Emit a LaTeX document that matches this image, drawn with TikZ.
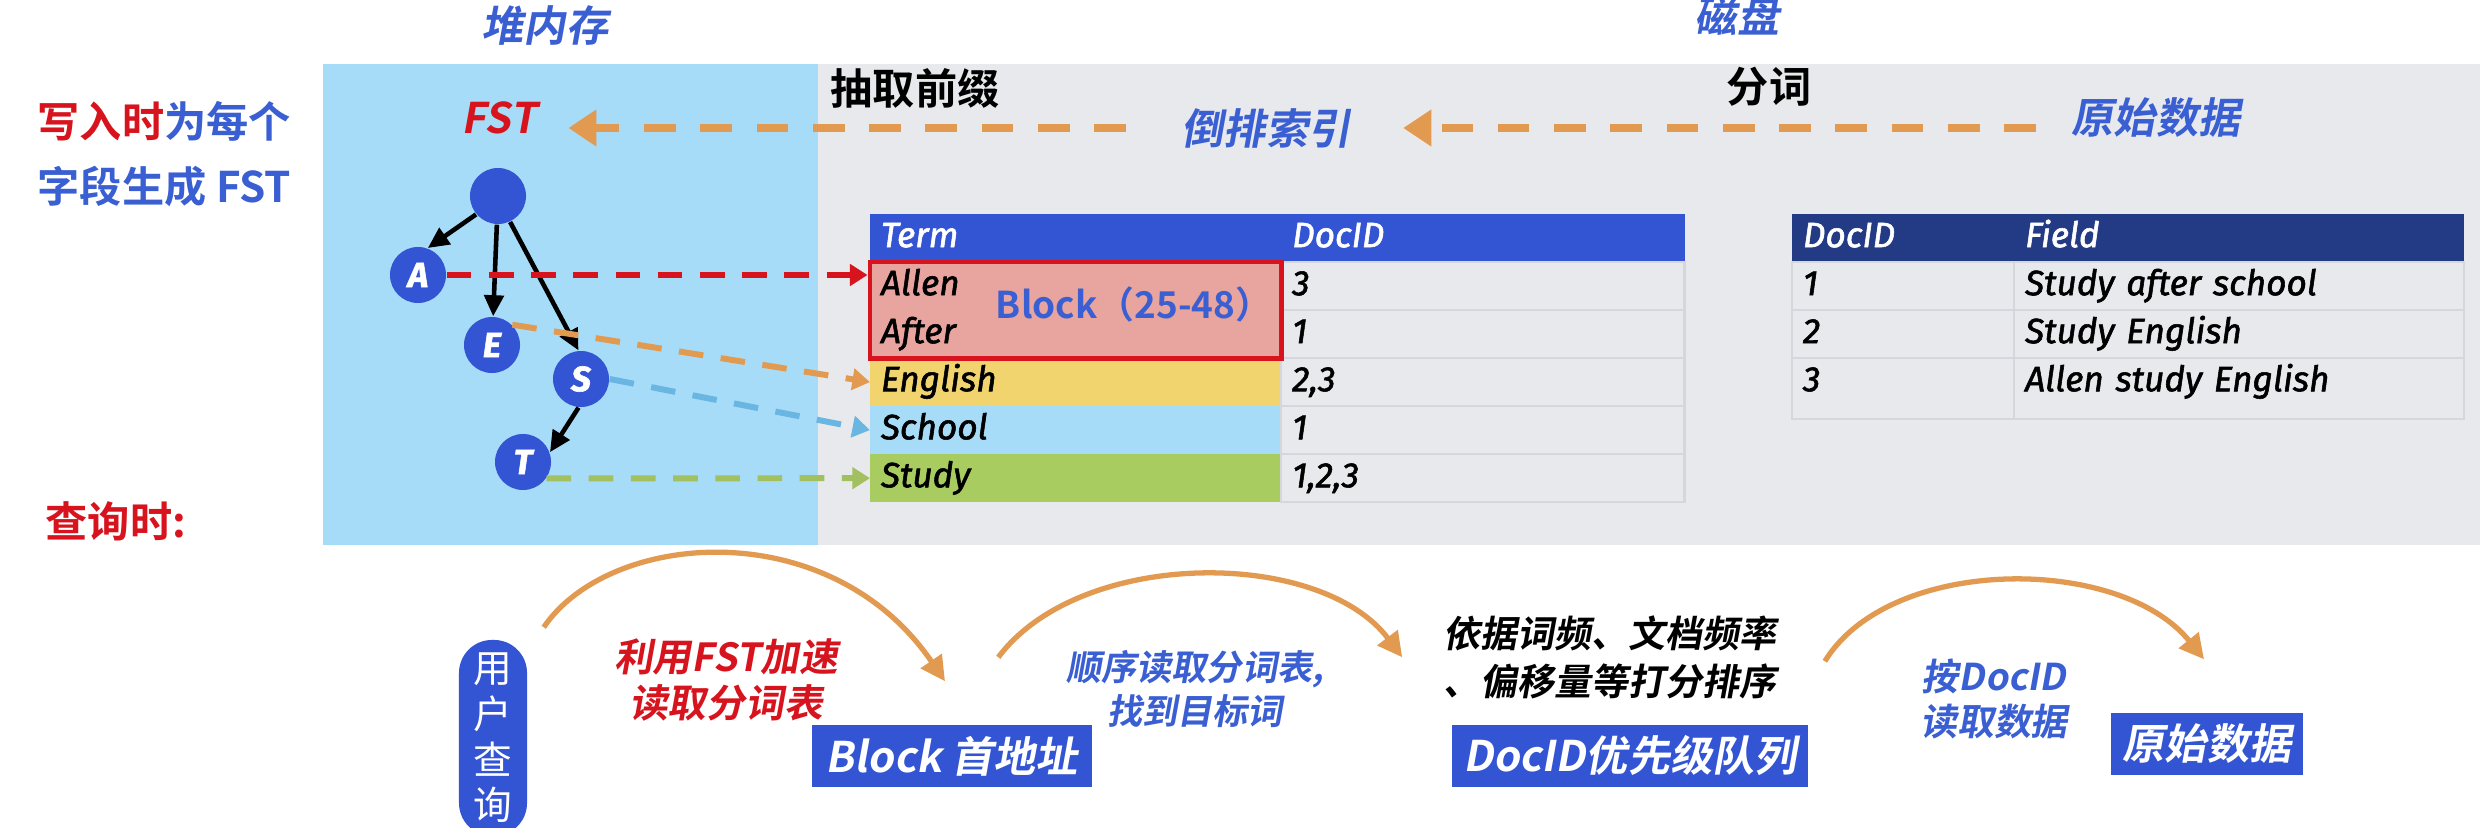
\documentclass[tikz,border=0pt]{standalone}
\usepackage{fontspec}
\usetikzlibrary{arrows.meta,positioning,calc,fit}
\newfontfamily\cjk[BoldFont={Noto Sans CJK SC Bold}]{Noto Sans CJK SC}
\newfontfamily\cjki[FakeSlant=0.18,BoldFont={Noto Sans CJK SC Bold}]{Noto Sans CJK SC}
\newfontfamily\lat[FakeBold=1.6]{Fira Sans}
\definecolor{heap}{RGB}{166,220,248}
\definecolor{disk}{RGB}{232,233,237}
\definecolor{boxblue}{RGB}{51,85,212}
\definecolor{txtblue}{RGB}{58,95,210}
\definecolor{navy}{RGB}{35,58,133}
\definecolor{hot}{RGB}{215,20,30}
\definecolor{amber}{RGB}{226,154,80}
\definecolor{salmon}{RGB}{232,164,158}
\definecolor{engyellow}{RGB}{242,212,110}
\definecolor{schoolblue}{RGB}{166,220,248}
\definecolor{studygreen}{RGB}{168,204,96}
\definecolor{gridline}{RGB}{214,215,221}
\definecolor{sky}{RGB}{105,182,226}
\definecolor{olive}{RGB}{163,192,96}

\begin{document}
\begin{tikzpicture}[x=0.01cm, y=-0.01cm,
  lbl/.style={inner sep=2pt, font=\cjki\bfseries\fontsize{12}{14}\selectfont},
  uplbl/.style={inner sep=2pt, font=\cjk\bfseries\fontsize{12}{14}\selectfont},
  cell/.style={anchor=north west, text width=#1, minimum height=0.48cm, text height=7.2pt, text depth=2pt, inner xsep=0.11cm, inner ysep=0pt, outer sep=0pt, align=left, font=\lat\itshape\fontsize{10}{12}\selectfont},
  cellline/.style={draw=gridline, line width=0.6pt},
  fstnode/.style={circle, fill=boxblue, minimum size=0.56cm, inner sep=0pt, text=white, font=\lat\itshape\bfseries\fontsize{10}{12}\selectfont},
  tree/.style={-{Triangle[length=6pt,width=5.5pt]}, line width=1.3pt},
  link/.style={line width=1.7pt, dash pattern=on 7pt off 5pt, -{Triangle[length=5pt,width=6pt]}},
  toparrow/.style={amber, line width=2.3pt, dash pattern=on 9pt off 7pt, -{Triangle[length=8pt,width=10pt]}},
  qbox/.style={fill=boxblue, text=white, inner sep=0pt, font=\cjki\bfseries\fontsize{12}{14}\selectfont},
  qlbl/.style 2 args={inner sep=1pt, align=center, font=\cjki\bfseries\fontsize{#1}{#2}\selectfont},
  hop/.style={amber, line width=1.5pt, -{Triangle[length=7pt,width=7pt]}},
]
  % canvas and the two storage areas
  \fill[white] (0,0) rectangle (2492,828);
  \useasboundingbox (0,0) rectangle (2492,828);
  \fill[heap] (323,64) rectangle (818,545);
  \fill[disk] (818,64) rectangle (2480,545);

  % titles
  \node[lbl, text=txtblue] (heaplbl) at (545,26) {堆内存};
  \node[lbl, text=txtblue] (disklbl) at (1737,16) {磁盘};
  \node[anchor=west, align=left, inner sep=2pt, text=txtblue, font=\cjk\bfseries\fontsize{12}{18.5}\selectfont] (writelbl) at (30,154) {\textcolor{hot}{写入时}为每个\\字段生成 FST};
  \node[uplbl, text=hot, anchor=west] (querylbl) at (38,521) {查询时:};

  \node[lbl, text=hot] (fst) at (499,118) {FST};
  \node[uplbl] (prefix) at (915,88) {抽取前缀};
  \node[lbl, text=txtblue] (invidx) at (1266,128) {倒排索引};
  \node[uplbl] (seg) at (1769,87) {分词};
  \node[lbl, text=txtblue] (rawtop) at (2156,118) {原始数据};
  \draw[toparrow, shorten <=0.28cm, shorten >=0.45cm] (rawtop.west |- invidx.east) -- (invidx.east);
  \draw[toparrow, shorten <=0.48cm, shorten >=0.24cm] (invidx.west) -- (invidx.west -| fst.east);

  % term dictionary
  \node[cell=3.89cm, fill=boxblue, text=white] (hterm) at (870,214) {Term};
  \node[cell=3.81cm, fill=boxblue, text=white, right=0pt of hterm] (hdoc) {DocID};
  \node[cell=3.89cm, fill=salmon, below=0pt of hterm] (allen) {Allen};
  \node[cell=3.89cm, fill=salmon, below=0pt of allen] (after) {After};
  \node[cell=3.89cm, fill=engyellow, below=0pt of after] (english) {English};
  \node[cell=3.89cm, fill=schoolblue, below=0pt of english] (school) {School};
  \node[cell=3.89cm, fill=studygreen, below=0pt of school] (study) {Study};
  \node[cell=3.81cm, cellline, right=0pt of allen] (dallen) {3};
  \node[cell=3.81cm, cellline, right=0pt of after] (dafter) {1};
  \node[cell=3.81cm, cellline, right=0pt of english] (denglish) {2,3};
  \node[cell=3.81cm, cellline, right=0pt of school] (dschool) {1};
  \node[cell=3.81cm, cellline, right=0pt of study] (dstudy) {1,2,3};
  \node[draw=hot, line width=1.4pt, inner sep=0pt, fit=(allen)(after)] (block) {};
  \node[font=\cjk\bfseries\fontsize{10.5}{12}\selectfont, text=txtblue] (blocklbl) at (1134,304) {Block（25-48）};

  % raw documents
  \node[cell=2cm, fill=navy, text=white] (h2doc) at (1792,214) {DocID};
  \node[cell=4.28cm, fill=navy, text=white, right=0pt of h2doc] (h2field) {Field};
  \node[cell=2cm, cellline, below=0pt of h2doc] (r1id) {1};
  \node[cell=2cm, cellline, below=0pt of r1id] (r2id) {2};
  \node[cell=2cm, cellline, below=0pt of r2id, minimum height=0.61cm, text depth=0.2cm] (r3id) {3};
  \node[cell=4.28cm, cellline, right=0pt of r1id] (r1f) {Study after school};
  \node[cell=4.28cm, cellline, right=0pt of r2id] (r2f) {Study English};
  \node[cell=4.28cm, cellline, right=0pt of r3id, minimum height=0.61cm, text depth=0.2cm] (r3f) {Allen study English};

  % FST
  \node[fstnode] (root) at (498,196) {};
  \node[fstnode] (na) at (418,275) {A};
  \node[fstnode] (ne) at (492,345) {E};
  \node[fstnode] (ns) at (581,379) {S};
  \node[fstnode] (nt) at (523,462) {T};
  \draw[tree] (root.220) -- (na.70);
  \draw[tree] (root) -- (ne);
  \draw[tree] (root.295) -- (ns.95);
  \draw[tree] (ns.265) -- (nt.20);
  \draw[link, hot] (na.east) -- (na.east -| block.west);
  \draw[link, amber] (ne.north east) -- (english.west);
  \draw[link, sky] (ns.east) -- (school.west);
  \draw[link, olive] (nt.-35) -- (study.west);

  % query path
  \node[fill=boxblue, rounded corners=0.33cm, minimum width=0.68cm, minimum height=1.96cm, inner sep=0pt, text=white, align=center, font=\cjk\fontsize{11}{13}\selectfont] (userq) at (493,738) {用\\户\\查\\询};
  \node[qbox, minimum width=2.79cm, minimum height=0.62cm] (blockaddr) at (952,756) {Block 首地址};
  \node[qbox, minimum width=3.56cm, minimum height=0.62cm] (docq) at (1630,756) {DocID优先级队列};
  \node[qbox, minimum width=1.91cm, minimum height=0.62cm] (rawbox) at (2207,744) {原始数据};
  \node[qlbl={11}{13}, text=hot] (fstlbl) at (726,680) {利用FST加速\\读取分词表};
  \node[qlbl={10}{12.5}, text=txtblue] (seqlbl) at (1195,689) {顺序读取分词表,\\找到目标词};
  \node[qlbl={10.5}{13.7}, text=black] (scorelbl) at (1610,657) {依据词频、文档频率\\、偏移量等打分排序};
  \node[qlbl={10.5}{13}, text=txtblue] (readlbl) at (1994,699) {按DocID\\读取数据};
  \draw[hop] ($(userq.north east)+(16,-12)$) .. controls (610,530) and (830,513) .. ($(blockaddr.north)+(-7,-43)$);
  \draw[hop] ($(blockaddr.north east)+(-94,-67)$) .. controls (1080,548) and (1320,548) .. ($(docq.north west)+(-49,-67)$);
  \draw[hop] ($(docq.north east)+(16,-63)$) .. controls (1890,555) and (2120,555) .. ($(rawbox.north)+(-3,-53)$);
\end{tikzpicture}
\end{document}
